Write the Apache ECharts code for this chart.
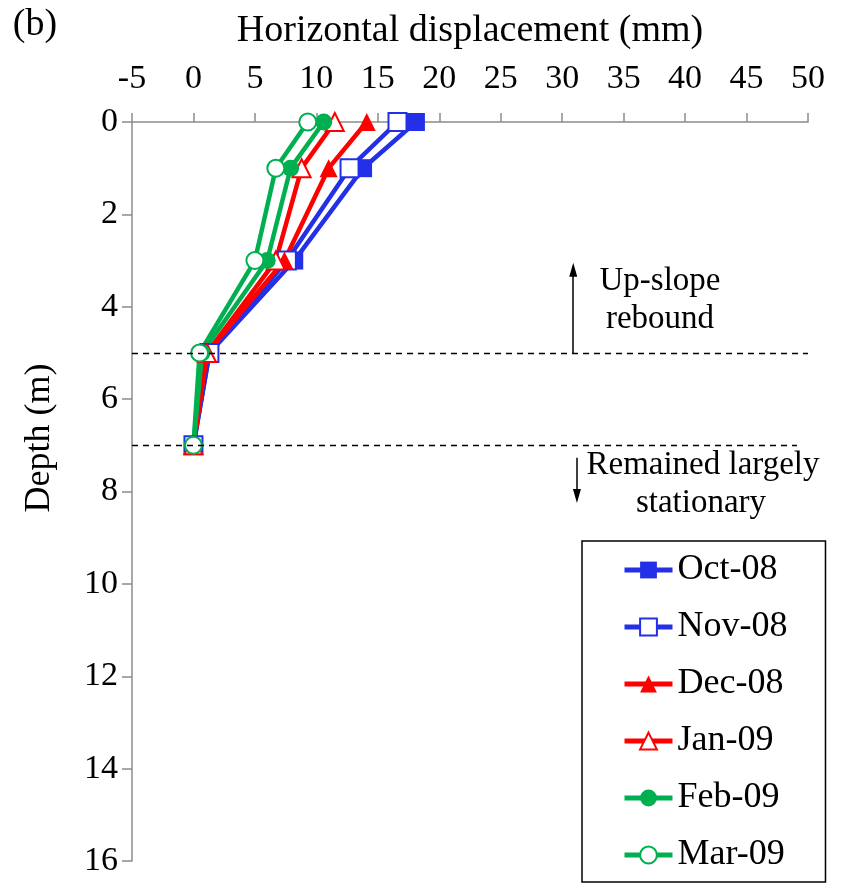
<!DOCTYPE html>
<html>
<head>
<meta charset="utf-8">
<script src="https://cdn.jsdelivr.net/npm/echarts@6/dist/echarts.min.js"></script>
<style>
  html, body { margin: 0; padding: 0; background: #fff; }
  #chart { width: 841px; height: 888px; }
</style>
</head>
<body>
<div id="chart"></div>
<script>
// Inclinometer readings: horizontal displacement (mm) at each depth (m)
const depths = [0, 1, 3, 5, 7];
const oct08 = [18.1, 13.8, 8.2, 1.3, 0];
const nov08 = [16.6, 12.7, 7.6, 1.3, 0];
const dec08 = [14.1, 11.0, 7.4, 1.1, 0];
const jan09 = [11.5, 8.8, 6.7, 1.1, 0];
const feb09 = [10.6, 7.9, 6.0, 0.7, 0];
const mar09 = [9.3, 6.7, 5.0, 0.5, 0];

const xTicks = [-5, 0, 5, 10, 15, 20, 25, 30, 35, 40, 45, 50];
const yTicks = [0, 2, 4, 6, 8, 10, 12, 14, 16];

// Zone boundaries (depth, m)
const reboundBase = 5;
const stationaryTop = 7;

const FONT = "'Liberation Serif', 'Times New Roman', serif";
const BLUE = '#2430E8';
const RED = '#FF0000';
const GREEN = '#00B050';

function pairs(vals) {
  return vals.map((v, i) => [v, depths[i]]);
}

function profile(name, vals, color, symbol, filled) {
  return {
    name: name,
    type: 'line',
    data: pairs(vals),
    symbol: symbol,
    symbolSize: symbol === 'circle' ? 17 : 18,
    showAllSymbol: true,
    lineStyle: { color: color, width: 4.5 },
    itemStyle: {
      color: filled ? color : '#ffffff',
      borderColor: color,
      borderWidth: filled ? 0 : 2
    },
    emphasis: { disabled: true },
    animation: false,
    z: 3
  };
}

const chart = echarts.init(document.getElementById('chart'), null, { renderer: 'canvas' });

chart.setOption({
  backgroundColor: '#ffffff',
  animation: false,
  textStyle: { fontFamily: FONT },
  grid: { left: 132, right: 33, top: 122, bottom: 27, containLabel: false, outerBoundsMode: 'none' },
  xAxis: {
    type: 'value',
    position: 'top',
    min: xTicks[0],
    max: xTicks[xTicks.length - 1],
    interval: 5,
    name: 'Horizontal displacement (mm)',
    nameLocation: 'middle',
    nameGap: 72,
    nameTextStyle: { fontFamily: FONT, fontSize: 38, color: '#000' },
    axisLine: { onZero: false, lineStyle: { color: '#8c8c8c', width: 1.5 } },
    axisTick: { show: true, inside: false, length: 9, lineStyle: { color: '#8c8c8c', width: 1.5 } },
    axisLabel: { fontFamily: FONT, fontSize: 34, color: '#000', margin: 26 },
    splitLine: { show: false }
  },
  yAxis: {
    type: 'value',
    inverse: true,
    min: yTicks[0],
    max: yTicks[yTicks.length - 1],
    interval: 2,
    axisLine: { onZero: false, lineStyle: { color: '#8c8c8c', width: 1.5 } },
    axisTick: { show: true, inside: false, length: 10, lineStyle: { color: '#8c8c8c', width: 1.5 } },
    axisLabel: { fontFamily: FONT, fontSize: 34, color: '#000', margin: 14 },
    splitLine: { show: false }
  },
  legend: {
    orient: 'vertical',
    left: 582,
    top: 541,
    padding: [11, 38, 9, 40],
    borderColor: '#000',
    borderWidth: 1.5,
    itemWidth: 48,
    itemHeight: 21,
    itemGap: 21,
    lineStyle: { width: 5 },
    textStyle: { fontFamily: FONT, fontSize: 36, color: '#000', lineHeight: 36 },
    data: ['Oct-08', 'Nov-08', 'Dec-08', 'Jan-09', 'Feb-09', 'Mar-09'],
    selectedMode: false
  },
  series: [
    {
      name: 'guides',
      type: 'line',
      data: [],
      silent: true,
      animation: false,
      z: 1,
      markLine: {
        silent: true,
        animation: false,
        symbol: ['none', 'none'],
        label: { show: false },
        data: [
          // zero-displacement reference
          [{ coord: [0, 0], lineStyle: { type: 'solid', color: '#000', width: 1.5 } },
           { coord: [0, 16.1] }],
          // zone boundaries
          [{ coord: [-5, reboundBase], lineStyle: { type: [6, 5], color: '#000', width: 1.3 } },
           { coord: [50, reboundBase] }],
          [{ coord: [-5, stationaryTop], lineStyle: { type: [6, 5], color: '#000', width: 1.3 } },
           { coord: [49.1, stationaryTop] }],
          // direction arrows
          [{ coord: [30.9, reboundBase], symbol: 'none', lineStyle: { type: 'solid', color: '#000', width: 1.5 } },
           { coord: [30.9, 3.2], symbol: 'triangle', symbolSize: [8, 14] }],
          [{ coord: [31.2, 7.27], symbol: 'none', lineStyle: { type: 'solid', color: '#000', width: 1.5 } },
           { coord: [31.2, 8.1], symbol: 'triangle', symbolSize: [8, 14] }]
        ]
      }
    },
    profile('Oct-08', oct08, BLUE, 'rect', true),
    profile('Nov-08', nov08, BLUE, 'rect', false),
    profile('Dec-08', dec08, RED, 'triangle', true),
    profile('Jan-09', jan09, RED, 'triangle', false),
    profile('Feb-09', feb09, GREEN, 'circle', true),
    profile('Mar-09', mar09, GREEN, 'circle', false)
  ],
  graphic: [
    { type: 'text', x: 35, y: 25,
      style: { text: '(b)', font: '38px ' + FONT, fill: '#000', align: 'center', verticalAlign: 'middle' } },
    { type: 'text', x: 40, y: 438, rotation: Math.PI / 2,
      style: { text: 'Depth (m)', font: '36px ' + FONT, fill: '#000', align: 'center', verticalAlign: 'middle' } },
    { type: 'text', x: 660, y: 281,
      style: { text: 'Up-slope', font: '33px ' + FONT, fill: '#000', align: 'center', verticalAlign: 'middle' } },
    { type: 'text', x: 660, y: 319,
      style: { text: 'rebound', font: '33px ' + FONT, fill: '#000', align: 'center', verticalAlign: 'middle' } },
    { type: 'text', x: 703, y: 465,
      style: { text: 'Remained largely', font: '33px ' + FONT, fill: '#000', align: 'center', verticalAlign: 'middle' } },
    { type: 'text', x: 701, y: 503,
      style: { text: 'stationary', font: '33px ' + FONT, fill: '#000', align: 'center', verticalAlign: 'middle' } }
  ]
});
</script>
</body>
</html>
